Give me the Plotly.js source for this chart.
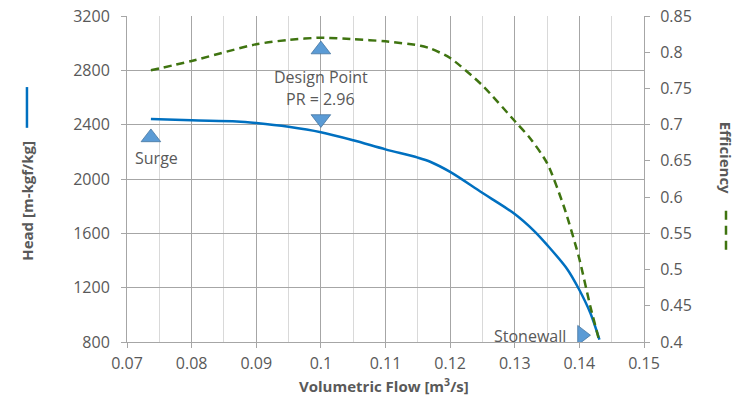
<!DOCTYPE html>
<html>
<head>
<meta charset="utf-8">
<script src="https://cdn.plot.ly/plotly-3.0.1.min.js"></script>
<style>html,body{margin:0;padding:0;background:#fff}#chart{width:746px;height:401px}</style>
</head>
<body>
<div id="chart"></div>
<script>
// Head curve
const flowHead = [0.0737, 0.08, 0.087, 0.09, 0.095, 0.1, 0.105, 0.11, 0.115, 0.117, 0.12, 0.1246, 0.1265, 0.13, 0.1329, 0.135, 0.1381, 0.1399, 0.1417, 0.1431];
const head     = [2442, 2432, 2424, 2412, 2384, 2344, 2285, 2218, 2157, 2125, 2052, 1910, 1852, 1742, 1622, 1515, 1338, 1192, 1013, 817];
// Efficiency curve
const flowEff = [0.0737, 0.08, 0.09, 0.095, 0.1, 0.105, 0.11, 0.1154, 0.117, 0.12, 0.1249, 0.1301, 0.1324, 0.135, 0.1376, 0.1399, 0.1417, 0.1431];
const eff     = [0.775, 0.788, 0.811, 0.817, 0.820, 0.818, 0.815, 0.809, 0.805, 0.792, 0.755, 0.704, 0.681, 0.647, 0.587, 0.518, 0.449, 0.401];
// Operating point markers
const markerFlow = [0.0737, 0.1, 0.1, 0.1404];
const markerHead = [2306, 2953, 2442, 850];
// Labels
const labelText = ['Surge', 'Design Point', 'PR = 2.96', 'Stonewall'];
const labelFlow = [0.0746, 0.1, 0.1, 0.1382];
const labelHead = [2156, 2753, 2587, 846];
// Axis titles
const xTitle = 'Volumetric Flow [m<sup>3</sup>/s]';
const y1Title = 'Head [m-kgf/kg]';
const y2Title = 'Efficiency';

const FONT = '"Open Sans", "Noto Sans", sans-serif';
const GRAY = '#595959';
const BLUE = '#0070C0';
const GREEN = '#3F7410';

const traces = [
  {x: flowHead, y: head, type: 'scatter', mode: 'lines', name: 'Head',
   line: {color: BLUE, width: 2.5, shape: 'spline', smoothing: 0.9}, yaxis: 'y'},
  {x: flowEff, y: eff, type: 'scatter', mode: 'lines', name: 'Efficiency',
   line: {color: GREEN, width: 2.5, dash: '8px,5px', shape: 'spline', smoothing: 0.7}, yaxis: 'y2'},
  {x: markerFlow, y: markerHead, type: 'scatter', mode: 'markers', name: 'Points',
   marker: {symbol: ['triangle-up', 'triangle-up', 'triangle-down', 'triangle-right'],
            size: 17, color: '#5B9BD5', line: {color: '#41719C', width: 0.75}}, yaxis: 'y'}
];

const annotations = labelText.map((t, i) => ({
  x: labelFlow[i], y: labelHead[i], xref: 'x', yref: 'y', text: t, showarrow: false,
  xanchor: i === 3 ? 'right' : 'center', yanchor: 'middle',
  font: {family: FONT, size: 16, color: GRAY}
}));
annotations.push(
  {x: -0.1935, y: 0.433, xref: 'paper', yref: 'paper', text: y1Title, showarrow: false, textangle: -90,
   xanchor: 'center', yanchor: 'middle', font: {family: FONT, size: 15, color: GRAY, weight: 'bold'}},
  {x: 1.1586, y: 0.565, xref: 'paper', yref: 'paper', text: y2Title, showarrow: false, textangle: 90,
   xanchor: 'center', yanchor: 'middle', font: {family: FONT, size: 15, color: GRAY, weight: 'bold'}},
  {x: 0.498, y: -0.134, xref: 'paper', yref: 'paper', text: xTitle, showarrow: false,
   xanchor: 'center', yanchor: 'middle', font: {family: FONT, size: 15, color: GRAY, weight: 'bold'}}
);

const layout = {
  width: 746, height: 401,
  margin: {l: 127, r: 102, t: 16, b: 59},
  paper_bgcolor: '#fff', plot_bgcolor: '#fff',
  showlegend: false,
  font: {family: FONT, size: 16, color: GRAY},
  xaxis: {range: [0.07, 0.15], dtick: 0.01, tick0: 0.07, showgrid: true, gridcolor: '#A6A6A6', gridwidth: 1,
          minor: {dtick: 0.005, showgrid: true, gridcolor: '#D9D9D9', gridwidth: 1},
          showline: true, linecolor: '#A6A6A6', ticks: 'outside', ticklen: 5, tickcolor: '#A6A6A6',
          ticklabelstandoff: 2,
          zeroline: false, tickfont: {family: FONT, size: 16, color: GRAY}, fixedrange: true},
  yaxis: {range: [800, 3200], dtick: 400, showgrid: true, gridcolor: '#A6A6A6', gridwidth: 1,
          showline: true, linecolor: '#A6A6A6', ticks: 'outside', ticklen: 5, tickcolor: '#A6A6A6',
          ticklabelstandoff: 8,
          zeroline: false, tickfont: {family: FONT, size: 16, color: GRAY}, fixedrange: true},
  yaxis2: {range: [0.4, 0.85], dtick: 0.05, overlaying: 'y', side: 'right', showgrid: false,
           showline: true, linecolor: '#A6A6A6', ticks: 'outside', ticklen: 5, tickcolor: '#A6A6A6',
           ticklabelstandoff: 7,
           zeroline: false, tickfont: {family: FONT, size: 16, color: GRAY}, fixedrange: true},
  annotations: annotations,
  shapes: [
    {type: 'line', xref: 'paper', yref: 'paper', x0: -0.1935, x1: -0.1935, y0: 0.657, y1: 0.782,
     line: {color: BLUE, width: 2.5}},
    {type: 'line', xref: 'paper', yref: 'paper', x0: 1.1586, x1: 1.1586, y0: 0.283, y1: 0.405,
     line: {color: GREEN, width: 2.5, dash: '9px,6px'}}
  ]
};

Plotly.newPlot('chart', traces, layout, {displayModeBar: false, staticPlot: true});
</script>
</body>
</html>
